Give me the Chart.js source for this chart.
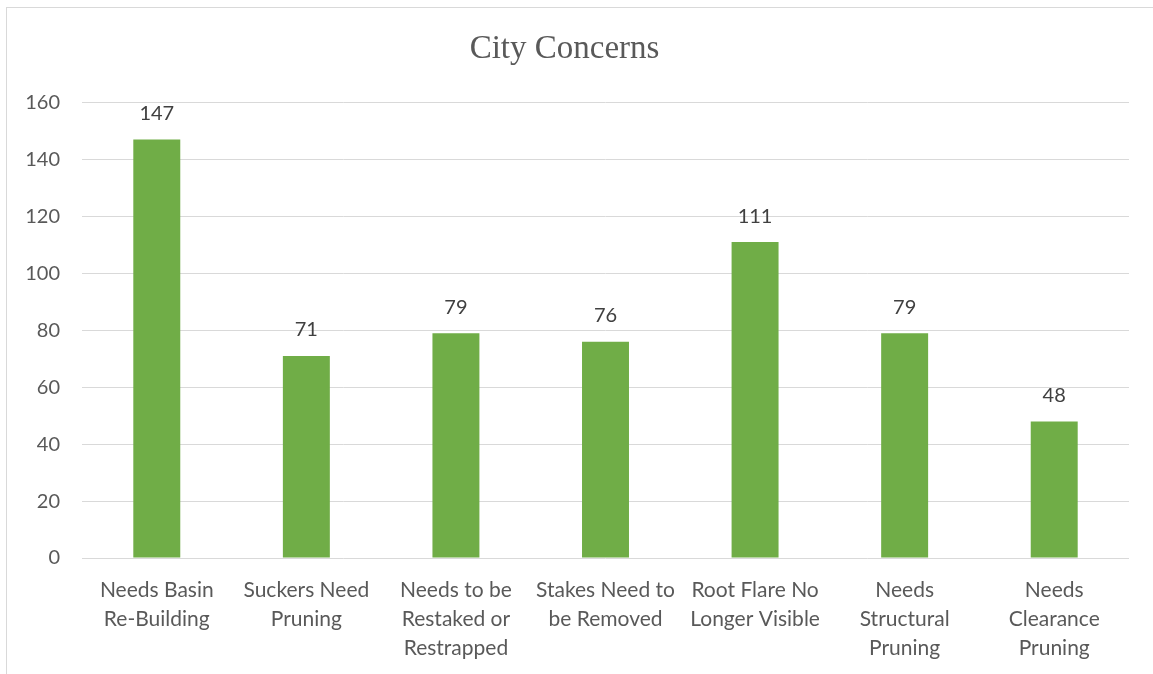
<!DOCTYPE html>
<html>
<head>
<meta charset="utf-8">
<script src="https://cdn.jsdelivr.net/npm/chart.js@4.4.1/dist/chart.umd.min.js"></script>
<style>
    html, body { margin: 0; padding: 0; background: #fff; overflow: hidden; }
    #frame { position: absolute; left: 6px; top: 7px; width: 1200px; height: 700px; border: 1px solid #d9d9d9; }
    #wrap { position: absolute; left: 0; top: 0; width: 1153px; height: 674px; }
</style>
</head>
<body>
<div id="frame"></div>
<div id="wrap"><canvas id="concernsChart"></canvas></div>
<script>
const categories = [
    ['Needs Basin', 'Re-Building'],
    ['Suckers Need', 'Pruning'],
    ['Needs to be', 'Restaked or', 'Restrapped'],
    ['Stakes Need to', 'be Removed'],
    ['Root Flare No', 'Longer Visible'],
    ['Needs', 'Structural', 'Pruning'],
    ['Needs', 'Clearance', 'Pruning']
];
const counts = [147, 71, 79, 76, 111, 79, 48];
const yTicks = [0, 20, 40, 60, 80, 100, 120, 140, 160];

// Draw the value above each bar.
const valueLabels = {
    id: 'valueLabels',
    afterDatasetsDraw(chart) {
        const ctx = chart.ctx;
        const meta = chart.getDatasetMeta(0);
        ctx.save();
        ctx.fillStyle = '#404040';
        ctx.font = '20px Lato';
        ctx.textAlign = 'center';
        ctx.textBaseline = 'middle';
        meta.data.forEach(function (bar, i) {
            ctx.fillText(String(counts[i]), bar.x, bar.y - 26);
        });
        ctx.restore();
    }
};

const chart = document.getElementById('concernsChart');
new Chart(chart, {
    type: 'bar',
    data: {
        labels: categories,
        datasets: [{
            label: 'City Concerns',
            data: counts,
            backgroundColor: '#70AD47',
            borderWidth: 0,
            categoryPercentage: 1,
            barPercentage: 0.314
        }]
    },
    options: {
        responsive: true,
        maintainAspectRatio: false,
        animation: false,
        layout: {
            padding: { left: 0, right: 24, top: 0, bottom: 0 }
        },
        scales: {
            x: {
                grid: { display: false },
                border: { display: false },
                ticks: {
                    color: '#595959',
                    font: { family: 'Lato', size: 21, lineHeight: 1.38 },
                    padding: 10,
                    maxRotation: 0,
                    autoSkip: false
                },
                afterFit(scale) { scale.height = 116; }
            },
            y: {
                min: 0,
                max: 160,
                afterBuildTicks(scale) {
                    scale.ticks = yTicks.map(function (v) { return { value: v }; });
                },
                grid: { color: '#d9d9d9', lineWidth: 1, drawTicks: false },
                border: { display: false },
                ticks: {
                    color: '#595959',
                    font: { family: 'Lato', size: 20 },
                    padding: 22
                },
                afterFit(scale) { scale.width = 82; }
            }
        },
        plugins: {
            legend: { display: false },
            tooltip: { enabled: false },
            title: {
                display: true,
                text: 'City Concerns',
                color: '#595959',
                font: { family: 'Liberation Serif', size: 33, weight: 'normal', lineHeight: 1.2 },
                padding: { top: 30, bottom: 33 }
            }
        }
    },
    plugins: [valueLabels]
});
</script>
</body>
</html>
